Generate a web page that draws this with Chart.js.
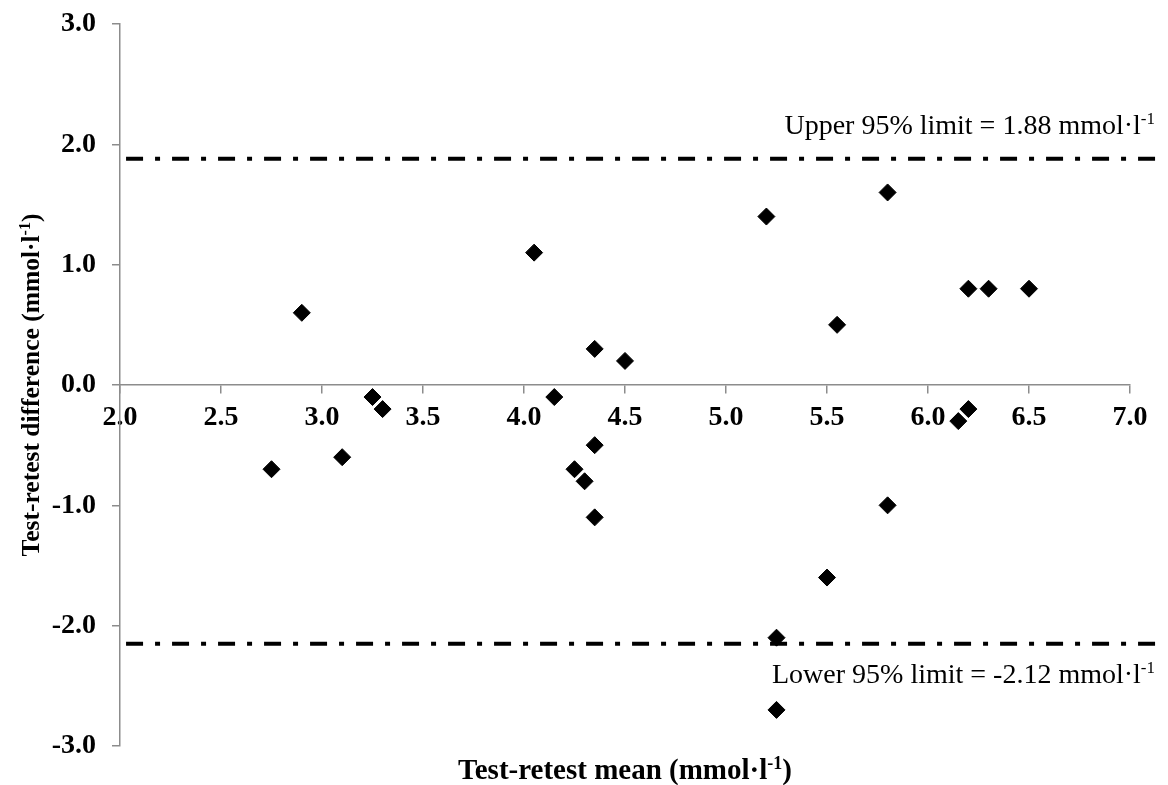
<!DOCTYPE html>
<html>
<head>
<meta charset="utf-8">
<script src="https://cdn.jsdelivr.net/npm/chart.js@4.4.1/dist/chart.umd.min.js"></script>
<style>
  html, body { margin: 0; padding: 0; background: #fff; }
  #wrap { width: 1168px; height: 785px; position: relative; }
</style>
</head>
<body>
<div id="wrap"><canvas id="chart"></canvas></div>
<script>
// Bland-Altman style plot: test-retest mean vs difference
const meanValues = [2.75, 2.9, 3.1, 3.25, 3.3, 4.05, 4.15, 4.25, 4.3, 4.35, 4.35, 4.35, 4.5,
  5.2, 5.25, 5.25, 5.5, 5.55, 5.8, 5.8, 6.15, 6.2, 6.2, 6.3, 6.5];
const diffValues = [-0.7, 0.6, -0.6, -0.1, -0.2, 1.1, -0.1, -0.7, -0.8, 0.3, -0.5, -1.1, 0.2,
  1.4, -2.1, -2.7, -1.6, 0.5, 1.6, -1.0, -0.3, 0.8, -0.2, 0.8, 0.8];

const xTickLabels = ['2.0', '2.5', '3.0', '3.5', '4.0', '4.5', '5.0', '5.5', '6.0', '6.5', '7.0'];
const yTickLabels = ['-3.0', '-2.0', '-1.0', '0.0', '1.0', '2.0', '3.0'];

const upperLimit = 1.88;
const lowerLimit = -2.15;          // where the line sits in the picture
const limitExtent = [2.03, 7.17];  // the dashed lines run a bit past the axis
const upperText = 'Upper 95% limit = 1.88 mmol·l';
const lowerText = 'Lower 95% limit = -2.12 mmol·l';
const xTitle = 'Test-retest mean (mmol·l';
const yTitle = 'Test-retest difference (mmol·l';

const FONT = "'Liberation Serif', 'Times New Roman', serif";
const AXIS_GREY = '#8c8c8c';

// text with a small raised "-1"
function drawSup(ctx, base, sup, tail, x, y, size, bold, align){
  const w = bold ? 'bold ' : '';
  const mainF = w + size + 'px ' + FONT;
  const supF = w + Math.round(size * 0.62) + 'px ' + FONT;
  ctx.font = mainF;
  const w1 = ctx.measureText(base).width;
  const w3 = ctx.measureText(tail).width;
  ctx.font = supF;
  const w2 = ctx.measureText(sup).width;
  const total = w1 + w2 + w3;
  let sx = x;
  if(align === 'right') sx = x - total;
  else if(align === 'center') sx = x - total / 2;
  ctx.textAlign = 'left';
  ctx.textBaseline = 'alphabetic';
  ctx.fillStyle = '#000';
  ctx.font = mainF; ctx.fillText(base, sx, y);
  ctx.font = supF; ctx.fillText(sup, sx + w1, y - size * 0.36);
  ctx.font = mainF; ctx.fillText(tail, sx + w1 + w2, y);
}

const textPlugin = {
  id: 'texts',
  afterDraw(chart){
    const ctx = chart.ctx;
    const area = chart.chartArea;
    const ys = chart.scales.y;
    ctx.save();
    drawSup(ctx, upperText, '-1', '', chart.width - 13, ys.getPixelForValue(upperLimit) - 25, 28, false, 'right');
    drawSup(ctx, lowerText, '-1', '', chart.width - 13, ys.getPixelForValue(lowerLimit) + 39, 28, false, 'right');
    drawSup(ctx, xTitle, '-1', ')', (area.left + area.right) / 2, chart.height - 6, 29, true, 'center');
    ctx.translate(39, (area.top + area.bottom) / 2);
    ctx.rotate(-Math.PI / 2);
    drawSup(ctx, yTitle, '-1', ')', 0, 0, 25.5, true, 'center');
    ctx.restore();
  }
};

function limitLine(value){
  return {
    data: limitExtent.map(x => ({x: x, y: value})),
    showLine: true,
    borderColor: '#000',
    borderWidth: 4,
    borderDash: [17, 12, 5, 12],
    pointRadius: 0,
    clip: false
  };
}

const tickFont = {family: FONT, size: 28, weight: 'bold'};

new Chart(document.getElementById('chart'), {
  type: 'scatter',
  data: {
    datasets: [
      limitLine(upperLimit),
      limitLine(lowerLimit),
      {
        data: meanValues.map((m, i) => ({x: m, y: diffValues[i]})),
        pointStyle: 'rectRot',
        pointRadius: 8.5,
        backgroundColor: '#000',
        borderColor: '#000',
        borderWidth: 1
      }
    ]
  },
  options: {
    responsive: true,
    maintainAspectRatio: false,
    animation: false,
    layout: {padding: {left: 0, right: 38, top: 24, bottom: 39}},
    plugins: {legend: {display: false}, tooltip: {enabled: false}},
    scales: {
      x: {
        type: 'linear',
        position: {y: 0},
        min: 2, max: 7,
        afterFit(scale){ scale.paddingLeft = 0; scale.paddingRight = 0; },
        ticks: {
          stepSize: 0.5,
          color: '#000',
          font: tickFont,
          padding: 8,
          maxRotation: 0,
          autoSkip: false,
          callback: (v, i) => xTickLabels[i]
        },
        grid: {display: true, drawOnChartArea: false, drawTicks: true, tickLength: 8, color: AXIS_GREY, lineWidth: 1.5},
        border: {display: true, color: AXIS_GREY, width: 1.5}
      },
      y: {
        type: 'linear',
        position: 'left',
        min: -3, max: 3,
        afterFit(scale){ scale.width = 120; scale.paddingTop = 0; scale.paddingBottom = 0; },
        ticks: {
          stepSize: 1,
          color: '#000',
          font: tickFont,
          padding: 16,
          callback: (v, i) => yTickLabels[i]
        },
        grid: {display: true, drawOnChartArea: false, drawTicks: true, tickLength: 8, color: AXIS_GREY, lineWidth: 1.5},
        border: {display: true, color: AXIS_GREY, width: 1.5}
      }
    }
  },
  plugins: [textPlugin]
});
</script>
</body>
</html>
